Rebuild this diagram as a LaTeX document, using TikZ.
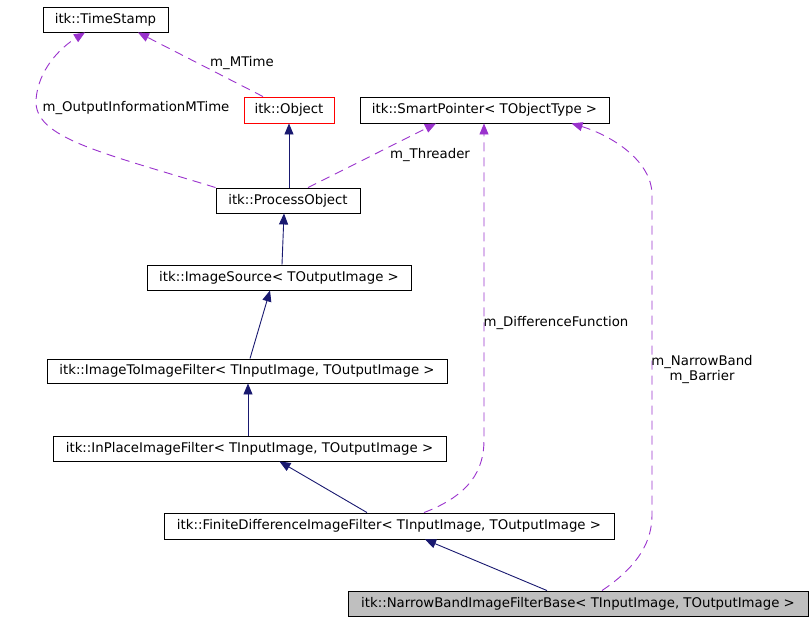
\documentclass[tikz,border=0pt]{standalone}
\usepackage{fontspec}
\setmainfont{DejaVu Sans}
\usetikzlibrary{arrows.meta}
\definecolor{navyc}{HTML}{191970}
\definecolor{purplec}{HTML}{9A32CD}
\definecolor{grayc}{HTML}{BFBFBF}
\begin{document}
\begin{tikzpicture}[x=1pt,y=-1pt,
  cls/.style={draw=black,line width=0.9pt,inner sep=0pt,minimum height=25pt,font=\fontsize{13.3}{15.5}\selectfont},
  inhedge/.style={draw=navyc,line width=0.9pt,-{Triangle[length=11pt,width=9pt]},color=navyc},
  useedge/.style={draw=purplec,line width=0.9pt,dash pattern=on 9pt off 6pt,-{Triangle[length=11pt,width=9pt]},color=purplec},
  lbl/.style={font=\fontsize{13.3}{15.5}\selectfont,inner sep=0pt,align=center}]
\path[use as bounding box] (0,0) rectangle (812,621);
% classes
\node[cls,minimum width=125pt] (ts) at (105.5,19.5) {itk::TimeStamp};
\node[cls,draw=red,minimum width=90pt,minimum height=26pt] (obj) at (289,110) {itk::Object};
\node[cls,minimum width=249pt,minimum height=26pt] (sp) at (484.5,110) {itk::SmartPointer< TObjectType >};
\node[cls,minimum width=144pt] (po) at (288,200.5) {itk::ProcessObject};
\node[cls,minimum width=264pt] (is) at (279,277.5) {itk::ImageSource< TOutputImage >};
\node[cls,minimum width=400pt,minimum height=24pt] (i2i) at (247,371) {itk::ImageToImageFilter< TInputImage, TOutputImage >};
\node[cls,minimum width=393pt] (ip) at (249.5,448.5) {itk::InPlaceImageFilter< TInputImage, TOutputImage >};
\node[cls,minimum width=450pt,minimum height=26pt] (fd) at (389,526) {itk::FiniteDifferenceImageFilter< TInputImage, TOutputImage >};
\node[cls,fill=grayc,minimum width=460pt] (nb) at (578,603.5) {itk::NarrowBandImageFilterBase< TInputImage, TOutputImage >};
% inheritance
\draw[inhedge] ([xshift=1pt]po.north) -- (obj.south);
\draw[inhedge] ([xshift=3pt]is.north) -- ([xshift=-4pt]po.south);
\draw[inhedge] ([xshift=3pt]i2i.north) -- ([xshift=-9pt]is.south);
\draw[inhedge] ([xshift=-1.5pt]ip.north) -- ([xshift=1pt]i2i.south);
\draw[inhedge] ([xshift=-22pt]fd.north) -- ([xshift=30pt]ip.south);
\draw[inhedge] ([xshift=-31pt]nb.north) -- ([xshift=36pt]fd.south);
% usage
\draw[useedge] ([xshift=-26pt]obj.north) -- ([xshift=32.5pt]ts.south);
\node[lbl] (lmt) at (242,63) {m\_MTime};
\draw[useedge] (po.north west) .. controls (100,152) and (34,138) .. (36,100) .. controls (38,70) and (60,48) .. ([xshift=-20.5pt]ts.south);
\node[lbl] (loim) at (136,108) {m\_OutputInformationMTime};
\draw[useedge] ([xshift=20pt]po.north) -- ([xshift=-48.5pt]sp.south);
\node[lbl] (lth) at (430,155) {m\_Threader};
\draw[useedge] ([xshift=35pt]fd.north) .. controls (470,495) and (484,470) .. (484,440) -- ([xshift=-0.5pt]sp.south);
\node[lbl] (ldf) at (556,323) {m\_DifferenceFunction};
\draw[useedge] ([xshift=24pt]nb.north) .. controls (640,565) and (652,540) .. (652,515) -- (652,195) .. controls (652,160) and (610,135) .. ([xshift=87pt]sp.south);
\node[lbl] (lnb) at (702,369.5) {m\_NarrowBand\\m\_Barrier};
\end{tikzpicture}
\end{document}
